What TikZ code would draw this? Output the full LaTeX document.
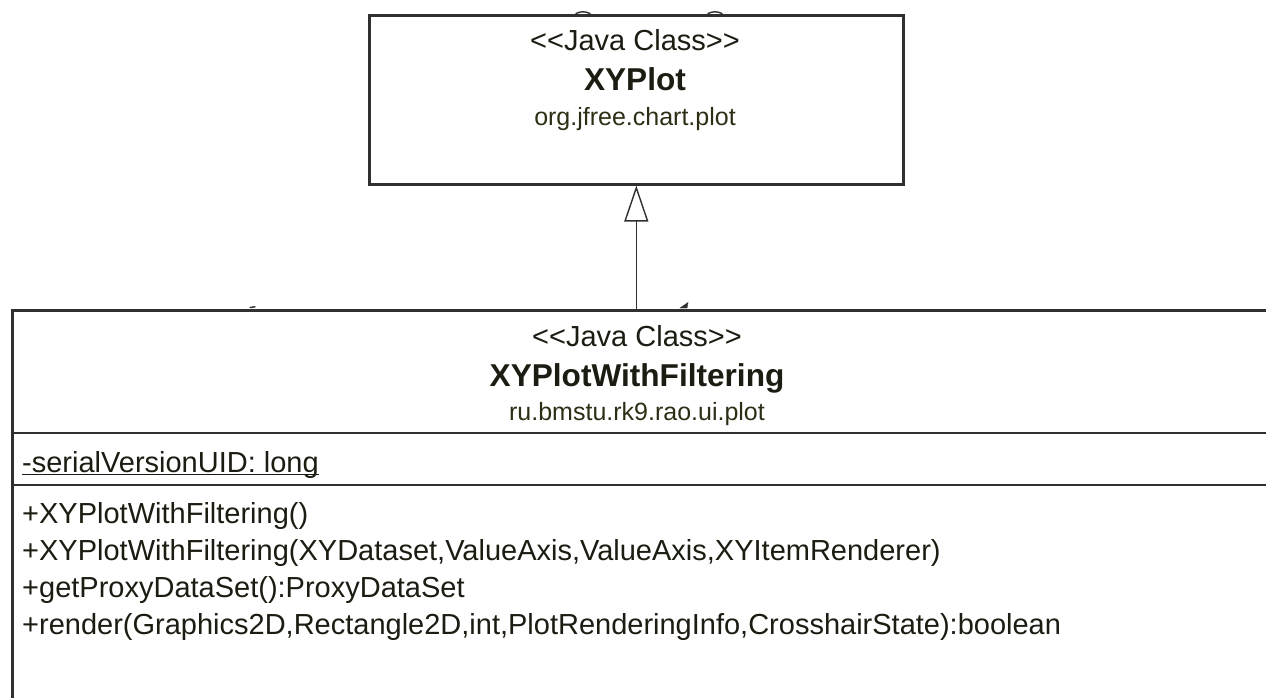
\documentclass[tikz,border=0pt]{standalone}
\usepackage{fontspec}
\setmainfont{Liberation Sans}[Ligatures=TeXOff]
\usetikzlibrary{arrows.meta}
\definecolor{umlline}{HTML}{303030}
\definecolor{umltext}{HTML}{1C1C12}
\definecolor{umlpkg}{HTML}{2E2E16}
\begin{document}
\begin{tikzpicture}[x=1pt,y=-1pt,
  box/.style={draw=umlline, line width=2.6pt, inner sep=0pt, anchor=north west},
  sepline/.style={draw=umlline, line width=2.6pt},
  stereo/.style={font=\fontsize{29}{34}\selectfont, text=umltext, anchor=base, inner sep=0pt},
  cname/.style={font=\bfseries\fontsize{31.6}{38}\selectfont, text=umltext, anchor=base, inner sep=0pt},
  pkg/.style={font=\fontsize{25}{30}\selectfont, text=umlpkg, anchor=base, inner sep=0pt},
  member/.style={font=\fontsize{29}{34}\selectfont, text=umltext, anchor=base west, inner sep=0pt},
  generalization/.style={draw=umlline, line width=1.4pt, -{Triangle[open, length=36pt, width=24pt]}},
  stub/.style={draw=umlline, line width=1.4pt, line cap=round}
]
\useasboundingbox[fill=white] (0,0) rectangle (1266,697);
\clip (0,0) rectangle (1266,697);

% superclass
\node[box, minimum width=534pt, minimum height=169pt] (xyplot) at (368,14) {};
\node[stereo] (xyplot-stereo) at (635,50) {<<Java Class>>};
\node[cname]  (xyplot-name)   at (635,90) {XYPlot};
\node[pkg]    (xyplot-pkg)    at (635,125) {org.jfree.chart.plot};

% subclass (runs past the right and bottom edges)
\node[box, minimum width=1290pt, minimum height=430pt] (filtering) at (11,309) {};
\node[stereo] (filtering-stereo) at (637,346) {<<Java Class>>};
\node[cname]  (filtering-name)   at (637,386) {XYPlotWithFiltering};
\node[pkg]    (filtering-pkg)    at (637,420) {ru.bmstu.rk9.rao.ui.plot};

% compartments
\coordinate (sep1) at (0,433);
\coordinate (sep2) at (0,485);
\draw[sepline] (filtering.west |- sep1) -- (filtering.east |- sep1);
\draw[sepline] (filtering.west |- sep2) -- (filtering.east |- sep2);

% attribute (static, underlined)
\node[member] (serial) at (22,472) {-serialVersionUID: long};
\draw[umltext, line width=1.3pt] ([yshift=-2.5pt]serial.base west) -- ([yshift=-2.5pt]serial.base east);

% operations
\node[member] (op1) at (22,523) {+XYPlotWithFiltering()};
\node[member] (op2) at (22,560) {+XYPlotWithFiltering(XYDataset,ValueAxis,ValueAxis,XYItemRenderer)};
\node[member] (op3) at (22,597) {+getProxyDataSet():ProxyDataSet};
\node[member] (op4) at (22,634) {+render(Graphics2D,Rectangle2D,int,PlotRenderingInfo,CrosshairState):boolean};

% generalization
\draw[generalization] (xyplot.south |- filtering.north) -- (xyplot.south);

% small stubs left on the borders
\draw[stub] (576,13.5) .. controls (581,11.2) and (585,11.2) .. (590,13.5);
\draw[stub] (708,13.5) .. controls (713,11.2) and (717,11.2) .. (722,13.5);
\draw[stub] (250,307.5) -- (255,306.8);
\draw[umlline, fill=umlline] (680,308) -- (688,302.5) -- (687,308) -- cycle;
\end{tikzpicture}
\end{document}
